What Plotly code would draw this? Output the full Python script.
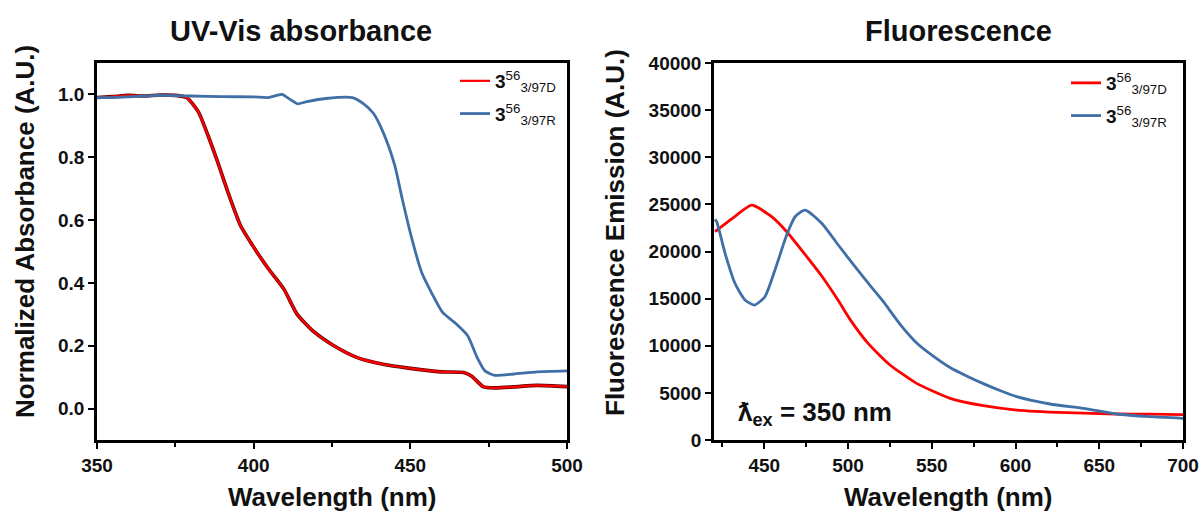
import plotly.graph_objects as go

# UV-Vis absorbance spectra (normalized)
abs_wl_D = [350, 355, 360, 365, 370, 375, 378.6, 382.3, 385.4, 388.5, 392.1, 395.8, 400, 404.7,
            409.6, 413.9, 419.4, 425.6, 432.9, 441.3, 450, 459.7, 467, 469.5, 473.2, 476.9,
            483, 490.4, 500]
abs_D = [0.99, 0.993, 0.997, 0.995, 0.998, 0.997, 0.99, 0.945, 0.87, 0.785, 0.68, 0.583, 0.514,
         0.445, 0.381, 0.30, 0.243, 0.20, 0.163, 0.141, 0.128, 0.117, 0.115, 0.104, 0.07, 0.066,
         0.069, 0.074, 0.07]

abs_wl_R = [350, 355, 360, 370, 380, 390, 400, 404.7, 409, 411.5, 414, 417, 423, 431.5, 435.1,
            438.2, 441.3, 445, 447.4, 450.5, 453.6, 456.7, 460.3, 464.6, 468.3, 471.3, 473.8,
            476.9, 483, 490.4, 500]
abs_R = [0.99, 0.99, 0.992, 0.997, 0.995, 0.993, 0.992, 0.99, 1.0, 0.985, 0.97, 0.977, 0.987,
         0.99, 0.97, 0.94, 0.88, 0.775, 0.668, 0.54, 0.434, 0.37, 0.306, 0.27, 0.232, 0.163,
         0.12, 0.106, 0.11, 0.117, 0.12]

# Fluorescence emission spectra (excitation at 350 nm)
fl_wl_D = [420.6, 428.4, 433.5, 442.5, 454.4, 463.4, 474.3, 484.3, 494.2, 501.2, 512, 525.1,
           541, 561, 580.8, 600.7, 630.5, 660.4, 680.3, 700]
fl_D = [22100, 23160, 23870, 24930, 23690, 22100, 19700, 17400, 14800, 12800, 10250, 7960,
        6010, 4420, 3640, 3180, 2900, 2760, 2740, 2700]

fl_wl_R = [420.6, 421.6, 426.6, 432.5, 438.5, 444.1, 450.4, 456.4, 463.4, 468.4, 474.3, 484.3,
           494.2, 504.2, 514.1, 521, 531, 541, 550.9, 560.9, 570.8, 580.8, 590.7, 600.7, 620.6,
           640.5, 660.4, 680.3, 700]
fl_R = [23400, 23160, 19810, 16630, 14860, 14320, 15200, 18040, 21750, 23690, 24400, 22990,
        20690, 18400, 16200, 14700, 12300, 10300, 8900, 7700, 6800, 5980, 5250, 4600, 3820,
        3360, 2760, 2470, 2300]

name_D = "<b>3</b><sup>56</sup><sub>3/97D</sub>"
name_R = "<b>3</b><sup>56</sup><sub>3/97R</sub>"

RED = "#ff0000"
BLUE = "#3f6fa6"
FONT = "Liberation Sans, Arial, sans-serif"
INK = "#111111"

fig = go.Figure()

# Left panel: absorbance
fig.add_trace(go.Scatter(x=abs_wl_D, y=abs_D, mode="lines",
                         line=dict(color="#5a0000", width=3.6, shape="spline", smoothing=0.6),
                         showlegend=False, hoverinfo="skip", xaxis="x", yaxis="y"))
fig.add_trace(go.Scatter(x=abs_wl_D, y=abs_D, mode="lines", name=name_D, legendgroup="D",
                         line=dict(color=RED, width=2.2, shape="spline", smoothing=0.6),
                         xaxis="x", yaxis="y", legend="legend"))
fig.add_trace(go.Scatter(x=abs_wl_R, y=abs_R, mode="lines", name=name_R, legendgroup="R",
                         line=dict(color=BLUE, width=2.8, shape="spline", smoothing=0.6),
                         xaxis="x", yaxis="y", legend="legend"))

# Right panel: fluorescence
fig.add_trace(go.Scatter(x=fl_wl_D, y=fl_D, mode="lines", name=name_D, legendgroup="D2",
                         line=dict(color=RED, width=2.8, shape="spline", smoothing=0.6),
                         xaxis="x2", yaxis="y2", legend="legend2"))
fig.add_trace(go.Scatter(x=fl_wl_R, y=fl_R, mode="lines", name=name_R, legendgroup="R2",
                         line=dict(color=BLUE, width=2.8, shape="spline", smoothing=0.6),
                         xaxis="x2", yaxis="y2", legend="legend2"))

tickfont = dict(family=FONT, size=19, color=INK, weight="bold")
titlefont = dict(family=FONT, size=26, color=INK, weight="bold")
headfont = dict(family=FONT, size=29, color=INK, weight="bold")
legfont = dict(family=FONT, size=19, color=INK)

axis_common = dict(showline=True, linecolor="black", linewidth=2.5, mirror=True, showgrid=False,
                   zeroline=False, ticks="outside", ticklen=6, tickwidth=2, tickcolor="black",
                   tickfont=tickfont, automargin=False)
minor_common = dict(ticks="outside", ticklen=4, tickwidth=2, tickcolor="black")

H = 512.0
W = 1199.0


def label(text, px, py, font, angle=0):
    """Text centred on a pixel position of the page."""
    return dict(text=text, x=px / W, y=1 - py / H, xref="paper", yref="paper",
                xanchor="center", yanchor="middle", textangle=angle, showarrow=False, font=font)


fig.update_layout(
    width=1199, height=512,
    margin=dict(l=0, r=0, t=0, b=0),
    plot_bgcolor="white", paper_bgcolor="white",
    xaxis=dict(domain=[97 / W, 567 / W], range=[350, 500], anchor="y",
               tickvals=[350, 400, 450, 500], minor=dict(tickvals=[375, 425, 475], **minor_common),
               **axis_common),
    yaxis=dict(domain=[1 - 440 / H, 1 - 63 / H], range=[-0.1, 1.1], anchor="x",
               tickvals=[0.0, 0.2, 0.4, 0.6, 0.8, 1.0], tickformat=".1f", **axis_common),
    xaxis2=dict(domain=[714 / W, 1183 / W], range=[420, 700], anchor="y2",
                tickvals=[450, 500, 550, 600, 650, 700],
                minor=dict(tickvals=[425, 475, 525, 575, 625, 675], **minor_common),
                **axis_common),
    yaxis2=dict(domain=[1 - 440 / H, 1 - 63 / H], range=[0, 40000], anchor="x2",
                tickvals=list(range(0, 40001, 5000)), tickformat="d", **axis_common),
    legend=dict(x=455 / W, y=1 - 62 / H, xanchor="left", yanchor="top",
                bgcolor="rgba(0,0,0,0)", font=legfont, tracegroupgap=5),
    legend2=dict(x=1066 / W, y=1 - 64 / H, xanchor="left", yanchor="top",
                 bgcolor="rgba(0,0,0,0)", font=legfont, tracegroupgap=5),
    annotations=[
        label("UV-Vis absorbance", 301, 31, headfont),
        label("Fluorescence", 958, 31, headfont),
        label("Wavelength (nm)", 332, 497, titlefont),
        label("Wavelength (nm)", 948, 497, titlefont),
        label("Normalized Absorbance (A.U.)", 25, 232, titlefont, -90),
        label("Fluorescence Emission (A.U.)", 615, 233, titlefont, -90),
        # excitation wavelength note
        dict(text="ƛ<sub>ex</sub> = 350 nm", x=433, y=2850, xref="x2", yref="y2",
             xanchor="left", yanchor="middle", showarrow=False,
             font=dict(family=FONT, size=26, color=INK, weight="bold")),
    ],
)

fig.write_html("out.html")
